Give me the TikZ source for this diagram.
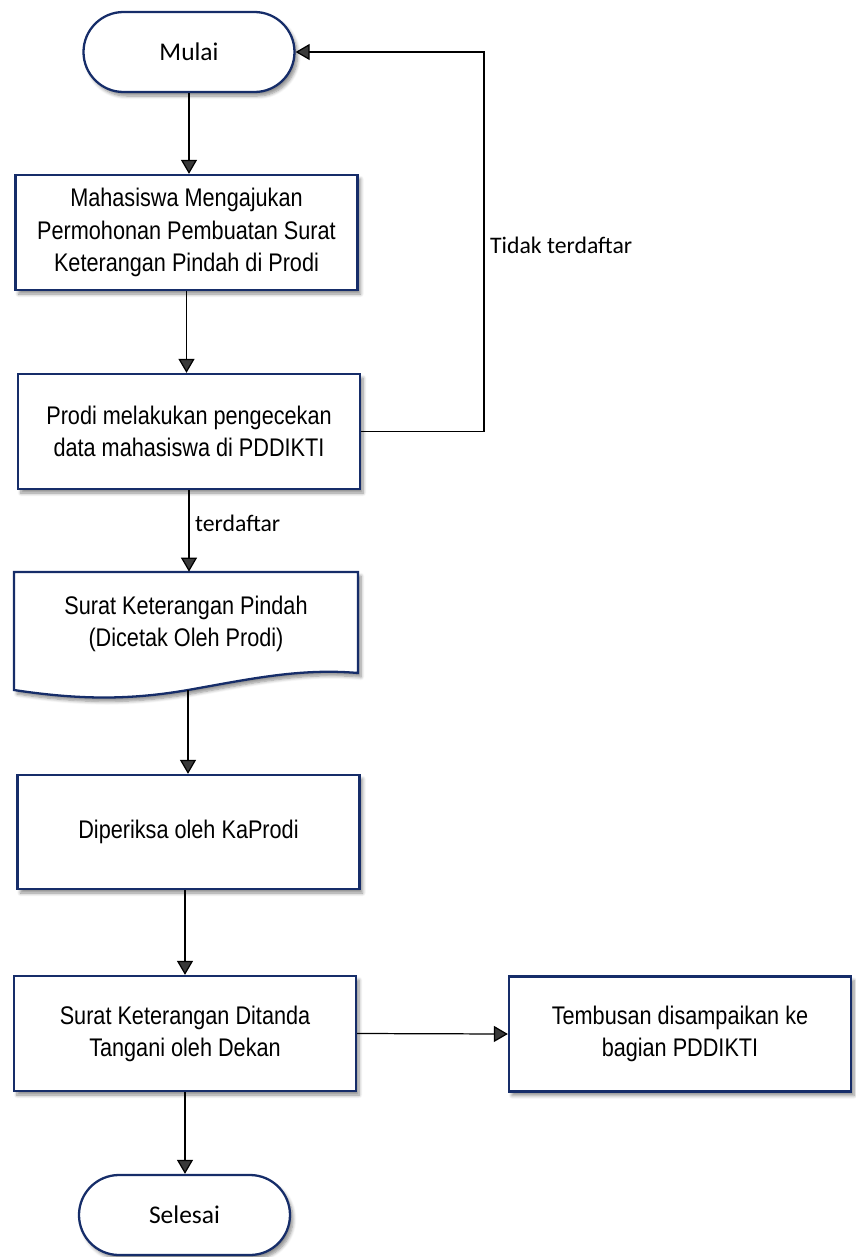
\documentclass[tikz,border=0pt]{standalone}
\usepackage{fontspec}
\setmainfont{Carlito}
\newfontfamily\arialn[FakeStretch=0.85]{Liberation Sans}
\usepackage{xcolor}
\usetikzlibrary{arrows.meta,calc,shadows.blur}
\definecolor{navy}{RGB}{22,45,105}
\tikzset{
	bayang/.style={
			blur shadow={shadow xshift=0.06cm, shadow yshift=-0.08cm, shadow blur steps=6, shadow opacity=45}
		},
	proses/.style={
			draw=navy, line width=1.3pt, fill=white, bayang,
			minimum width=6.84cm, minimum height=2.3cm,
			align=center, font=\arialn\fontsize{14.5}{18.3}\selectfont
		},
	terminal/.style={
			draw=navy, line width=1.3pt, fill=white, bayang,
			rounded corners=0.8cm, minimum width=4.22cm, minimum height=1.6cm,
			font=\fontsize{14.5}{17}\selectfont
		},
	panah/.style={-{Triangle[length=0.28cm,width=0.32cm]}, line width=0.7pt},
	ket/.style={font=\fontsize{13.5}{16}\selectfont, inner sep=1pt}
}

\begin{document}
\begin{tikzpicture}
        \useasboundingbox (0, 0) rectangle (17.12, -25.14);
        \node[terminal] (mulai) at (3.78, -1.04) {Mulai};
        \node[proses] (ajukan) at (3.73, -4.65) {Mahasiswa Mengajukan\\Permohonan Pembuatan Surat\\Keterangan Pindah di Prodi};
        \node[proses] (cek) at (3.78, -8.63) {Prodi melakukan pengecekan\\data mahasiswa di PDDIKTI};
        % dokumen
        \coordinate (surat_bawah) at (3.76, -13.8);
        \draw[draw=navy, line width=1.3pt, fill=white, bayang] (0.28, -11.44) -- (7.16, -11.44) -- (7.16, -13.46)
            .. controls (6.0, -13.36) and (5.0, -13.58) .. (surat_bawah)
            .. controls (2.6, -14.0) and (1.6, -14.0) .. (0.28, -13.8) -- cycle;
        \node[align=center, font=\arialn\fontsize{14.5}{18.3}\selectfont, minimum width=6.88cm, minimum height=2.08cm] (surat) at (3.72, -12.48) {Surat Keterangan Pindah\\(Dicetak Oleh Prodi)};
        \node[proses, minimum height=2.28cm] (periksa) at (3.77, -16.64) {Diperiksa oleh KaProdi};
        \node[proses] (ttd) at (3.70, -20.67) {Surat Keterangan Ditanda\\Tangani oleh Dekan};
        \node[proses] (tembusan) at (13.6, -20.68) {Tembusan disampaikan ke\\bagian PDDIKTI};
        \node[terminal] (selesai) at (3.69, -24.3) {Selesai};
        \coordinate (belok) at (9.68, -8.63);
        \node[ket, anchor=west] (tidak) at (9.76, -4.9) {Tidak terdaftar};
        \node[ket, anchor=west] (daftar) at (3.86, -10.46) {terdaftar};
        \draw[panah] (mulai.south) -- (mulai.south |- ajukan.north);
        \draw[panah] (ajukan.south) -- (ajukan.south |- cek.north);
        \draw[panah] (cek.east) -- (belok) |- (mulai.east);
        \draw[panah] (cek.south) -- (cek.south |- surat.north);
        \draw[panah] (surat_bawah) -- (surat_bawah |- periksa.north);
        \draw[panah] (periksa.south -| ttd) -- (ttd.north);
        \draw[panah] (ttd.east) -- (tembusan.west);
        \draw[panah] (ttd.south) -- (ttd.south |- selesai.north);
    \end{tikzpicture}
\end{document}
